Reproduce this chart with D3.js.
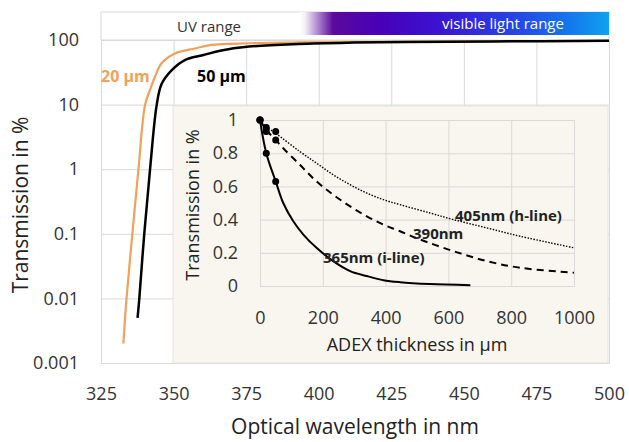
<!DOCTYPE html>
<html>
<head>
<meta charset="utf-8">
<script src="https://cdn.jsdelivr.net/npm/d3@7"></script>
<style>
  body { margin: 0; background: #fff; }
  text { font-family: "Open Sans", sans-serif; }
</style>
</head>
<body>
<script>
// main chart: transmission vs wavelength
var wl20 = [332.7, 333.8, 335.8, 337.9, 340.2, 341.9, 343.6, 345.9, 350.5, 357.4, 363, 376, 393, 420, 460, 500];
var tr20 = [0.002, 0.01, 0.1, 1, 10, 17, 27, 44, 62, 74, 84, 89, 92, 94, 96, 97];
var wl50 = [337.6, 338.2, 339.9, 341.9, 344.2, 345.9, 349.3, 353.9, 360, 366, 376, 393, 410, 430, 460, 500];
var tr50 = [0.005, 0.01, 0.1, 1, 10, 21, 34, 49, 58, 68, 79, 87, 91, 93, 95, 97];
var xTicks = [325, 350, 375, 400, 425, 450, 475, 500];
var yTicks = [0.001, 0.01, 0.1, 1, 10, 100];
var yLabels = ["0.001", "0.01", "0.1", "1", "10", "100"];

// inset: transmission vs thickness
var thick = [0, 20, 50];
var pts365 = [1, 0.80, 0.63];
var pts390 = [1, 0.93, 0.88];
var pts405 = [1, 0.955, 0.93];
var d365 = [0, 20, 50, 74, 106, 138, 180, 233, 287, 340, 393, 446, 541, 670];
var t365 = [1, 0.80, 0.63, 0.50, 0.39, 0.31, 0.23, 0.15, 0.09, 0.06, 0.035, 0.023, 0.012, 0.005];
var d390 = [0, 20, 50, 74, 127, 180, 233, 287, 340, 393, 446, 510, 616, 722, 828, 1000];
var t390 = [1, 0.94, 0.88, 0.83, 0.73, 0.63, 0.55, 0.48, 0.42, 0.37, 0.33, 0.28, 0.21, 0.15, 0.11, 0.08];
var d405 = [0, 20, 50, 127, 180, 233, 287, 340, 393, 446, 541, 616, 722, 828, 1000];
var t405 = [1, 0.96, 0.92, 0.81, 0.74, 0.67, 0.61, 0.56, 0.52, 0.49, 0.44, 0.40, 0.35, 0.30, 0.23];
var ixTicks = [0, 200, 400, 600, 800, 1000];
var iyTicks = [0, 0.2, 0.4, 0.6, 0.8, 1];

var gridColor = "#d9d9d9",
    orange = "#f2a05a";

var svg = d3.select("body").append("svg")
    .attr("width", 629)
    .attr("height", 442);

var x = d3.scaleLinear().domain([325, 500]).range([101, 609]),
    y = d3.scaleLog().domain([0.001, 100]).range([363, 40]);

// header band
var defs = svg.append("defs");
var grad = defs.append("linearGradient")
    .attr("id", "band")
    .attr("x1", "0%").attr("x2", "100%");
[[0, "#ffffff"], [0.016, "#f4f0f8"], [0.107, "#5b0a9e"], [0.26, "#4800b8"],
 [0.45, "#3a14d2"], [0.71, "#2448e6"], [0.87, "#1476ee"], [1, "#0ea2f0"]]
    .forEach(function(s) {
        grad.append("stop").attr("offset", s[0]).attr("stop-color", s[1]);
    });

svg.append("rect")
    .attr("x", x(325)).attr("y", 12)
    .attr("width", x(500) - x(325)).attr("height", 28)
    .attr("fill", "#fff")
    .attr("stroke", gridColor);
svg.append("rect")
    .attr("x", 300).attr("y", 12)
    .attr("width", x(500) - 300).attr("height", 23)
    .attr("fill", "url(#band)");
svg.append("text")
    .attr("x", 209).attr("y", 32)
    .attr("text-anchor", "middle")
    .attr("font-size", 15)
    .attr("fill", "#333")
    .text("UV range");
svg.append("text")
    .attr("x", 503).attr("y", 29)
    .attr("text-anchor", "middle")
    .attr("font-size", 15)
    .attr("fill", "#fff")
    .text("visible light range");

// grid + axes
var xAxis = svg.append("g")
    .attr("transform", "translate(0,363)")
    .call(d3.axisBottom(x).tickValues(xTicks).tickSize(-(363 - 40)).tickPadding(24));
var yAxis = svg.append("g")
    .attr("transform", "translate(101,0)")
    .call(d3.axisLeft(y).tickValues(yTicks)
        .tickFormat(function(d, i) { return yLabels[i]; })
        .tickSize(-(609 - 101)).tickPadding(22));

[xAxis, yAxis].forEach(function(a) {
    a.select(".domain").attr("stroke", gridColor);
    a.selectAll(".tick line").attr("stroke", gridColor);
    a.selectAll(".tick text")
        .attr("font-size", 18)
        .attr("fill", "#333")
        .style("font-family", "'Open Sans', sans-serif");
});

svg.append("text")
    .attr("x", 355).attr("y", 434)
    .attr("text-anchor", "middle")
    .attr("font-size", 21)
    .attr("fill", "#222")
    .text("Optical wavelength in nm");
svg.append("text")
    .attr("transform", "translate(28,205) rotate(-90)")
    .attr("text-anchor", "middle")
    .attr("font-size", 21)
    .attr("fill", "#222")
    .text("Transmission in %");

// main curves
var mainLine = d3.line()
    .x(function(d) { return x(d[0]); })
    .y(function(d) { return y(d[1]); })
    .curve(d3.curveCatmullRom.alpha(0.5));

svg.append("path")
    .datum(d3.zip(wl20, tr20))
    .attr("d", mainLine)
    .attr("fill", "none")
    .attr("stroke", orange)
    .attr("stroke-width", 2.2);
svg.append("path")
    .datum(d3.zip(wl50, tr50))
    .attr("d", mainLine)
    .attr("fill", "none")
    .attr("stroke", "#000")
    .attr("stroke-width", 2.5);

svg.append("text")
    .attr("x", 101).attr("y", 82)
    .attr("font-size", 16)
    .attr("font-weight", "bold")
    .attr("fill", orange)
    .text("20 µm");
svg.append("text")
    .attr("x", 197).attr("y", 82)
    .attr("font-size", 16)
    .attr("font-weight", "bold")
    .attr("fill", "#000")
    .text("50 µm");

// inset
var ix = d3.scaleLinear().domain([0, 1000]).range([260, 574]),
    iy = d3.scaleLinear().domain([0, 1]).range([286, 120]);

var inset = svg.append("g").attr("class", "inset");
inset.append("rect")
    .attr("x", 173).attr("y", 106)
    .attr("width", 608 - 173).attr("height", 363 - 106)
    .attr("fill", "#f8f6ee")
    .attr("stroke", "#e4e2da");

var ixAxis = inset.append("g")
    .attr("transform", "translate(0,286)")
    .call(d3.axisBottom(ix).tickValues(ixTicks).tickFormat(d3.format("d"))
        .tickSize(-(286 - 120)).tickPadding(25));
var iyAxis = inset.append("g")
    .attr("transform", "translate(260,0)")
    .call(d3.axisLeft(iy).tickValues(iyTicks).tickFormat(d3.format(""))
        .tickSize(-(574 - 260)).tickPadding(22));

[ixAxis, iyAxis].forEach(function(a) {
    a.select(".domain").attr("stroke", gridColor);
    a.selectAll(".tick line").attr("stroke", gridColor);
    a.selectAll(".tick text")
        .attr("font-size", 18)
        .attr("fill", "#333")
        .style("font-family", "'Open Sans', sans-serif");
});

inset.append("text")
    .attr("x", 417).attr("y", 351)
    .attr("text-anchor", "middle")
    .attr("font-size", 18)
    .attr("fill", "#222")
    .text("ADEX thickness in µm");
inset.append("text")
    .attr("transform", "translate(199,205) rotate(-90)")
    .attr("text-anchor", "middle")
    .attr("font-size", 18)
    .attr("fill", "#222")
    .text("Transmission in %");

var insetLine = d3.line()
    .x(function(d) { return ix(d[0]); })
    .y(function(d) { return iy(d[1]); })
    .curve(d3.curveCatmullRom.alpha(0.5));

var series = [
    {d: d405, t: t405, pts: pts405, dash: "1.5,1.5", w: 1.4},
    {d: d390, t: t390, pts: pts390, dash: "7,5", w: 2},
    {d: d365, t: t365, pts: pts365, dash: null, w: 2}
];

series.forEach(function(s) {
    inset.append("path")
        .datum(d3.zip(s.d, s.t))
        .attr("d", insetLine)
        .attr("fill", "none")
        .attr("stroke", "#000")
        .attr("stroke-width", s.w)
        .attr("stroke-dasharray", s.dash);
    inset.selectAll(null)
        .data(d3.zip(thick, s.pts))
        .enter()
        .append("circle")
        .attr("cx", function(d) { return ix(d[0]); })
        .attr("cy", function(d) { return iy(d[1]); })
        .attr("r", 3.5)
        .attr("fill", "#000");
});

var labels = [
    {t: "405nm (h-line)", x: 455, y: 221},
    {t: "390nm", x: 413, y: 239},
    {t: "365nm (i-line)", x: 323, y: 263}
];
inset.selectAll(".lbl")
    .data(labels)
    .enter()
    .append("text")
    .attr("class", "lbl")
    .attr("x", function(d) { return d.x; })
    .attr("y", function(d) { return d.y; })
    .attr("font-size", 15)
    .attr("font-weight", "bold")
    .attr("fill", "#222")
    .text(function(d) { return d.t; });
</script>
</body>
</html>
